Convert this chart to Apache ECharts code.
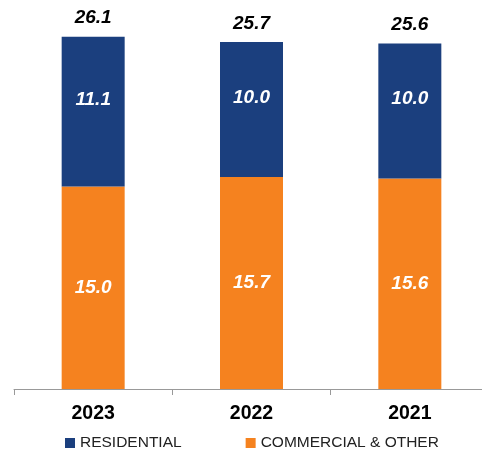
<!DOCTYPE html>
<html><head><meta charset="utf-8">
<script src="https://cdn.jsdelivr.net/npm/echarts@6/dist/echarts.min.js"></script>
<style>html,body{margin:0;padding:0;background:#fff}#c{width:482px;height:451px}</style>
</head><body><div id="c"></div>
<script>
const categories = ['2023', '2022', '2021'];
const residential = [11.1, 10.0, 10.0];
const commercial = [15.0, 15.7, 15.6];
const totals = [26.1, 25.7, 25.6];

const chart = echarts.init(document.getElementById('c'), null, {renderer: 'canvas'});
const labelFont = {fontFamily: 'Liberation Sans, Arial, sans-serif', fontWeight: 'bold', fontStyle: 'italic', fontSize: 19};
chart.setOption({
  animation: false,
  grid: {left: 14, width: 475, top: 11, bottom: 62, containLabel: false, outerBoundsMode: 'none'},
  legend: {
    data: ['RESIDENTIAL', 'COMMERCIAL & OTHER'],
    top: 435, left: 65, padding: 0, itemWidth: 10, itemHeight: 10, itemGap: 64, icon: 'rect',
    textStyle: {fontFamily: 'Liberation Sans, Arial, sans-serif', fontSize: 15.5, color: '#222'}
  },
  xAxis: {
    type: 'category', data: categories,
    axisLine: {lineStyle: {color: '#999', width: 1}},
    axisTick: {show: true, length: 6, lineStyle: {color: '#999'}},
    axisLabel: {fontFamily: 'Liberation Sans, Arial, sans-serif', fontWeight: 'bold', fontSize: 19.5, color: '#000', margin: 15}
  },
  yAxis: {type: 'value', min: 0, max: 28, show: false, splitLine: {show: false}},
  series: [
    {
      name: 'COMMERCIAL & OTHER', type: 'bar', stack: 's', data: commercial, barWidth: 63,
      itemStyle: {color: '#F5821F'},
      label: Object.assign({show: true, position: 'inside', color: '#fff', formatter: p => p.value.toFixed(1)}, labelFont)
    },
    {
      name: 'RESIDENTIAL', type: 'bar', stack: 's', data: residential, barWidth: 63,
      itemStyle: {color: '#1B3F7E'},
      label: Object.assign({show: true, position: 'inside', offset: [0, -12], color: '#fff', formatter: p => p.value.toFixed(1)}, labelFont)
    },
    {
      name: 'total', type: 'scatter', data: totals, symbolSize: 2, itemStyle: {color: 'rgba(0,0,0,0)', opacity: 1}, silent: true, clip: false,
      label: Object.assign({show: true, position: 'top', distance: 8, color: '#000', formatter: p => p.value.toFixed(1)}, labelFont)
    }
  ]
});
</script></body></html>
